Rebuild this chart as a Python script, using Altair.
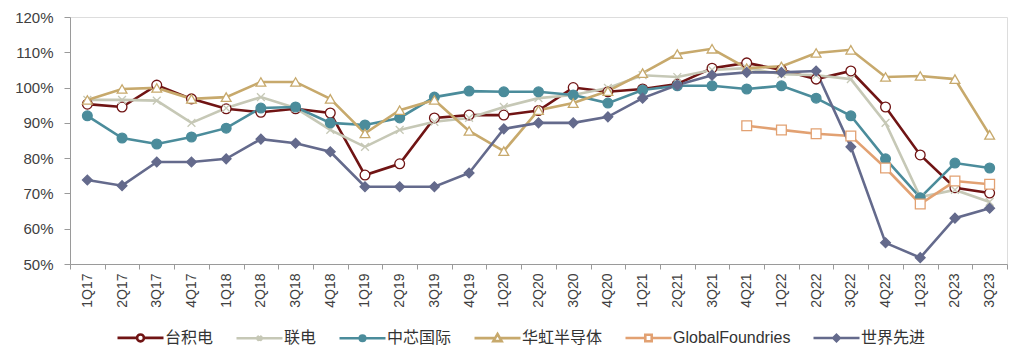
import altair as alt
import pandas as pd

quarters = ["1Q17","2Q17","3Q17","4Q17","1Q18","2Q18","3Q18","4Q18","1Q19","2Q19",
            "3Q19","4Q19","1Q20","2Q20","3Q20","4Q20","1Q21","2Q21","3Q21","4Q21",
            "1Q22","2Q22","3Q22","4Q22","1Q23","2Q23","3Q23"]

series_names = ["台积电", "联电", "中芯国际", "华虹半导体", "GlobalFoundries", "世界先进"]

tsmc = [95.3, 94.5, 100.7, 96.8, 94.0, 93.0, 94.0, 92.8, 75.2, 78.4, 91.4, 92.2, 92.2, 93.5,
        100.0, 98.8, 99.6, 101.0, 105.5, 107.0, 105.0, 102.4, 104.7, 94.5, 80.9, 71.6, 70.1]
umc = [96.5, 96.5, 96.3, 90.0, 94.2, 97.3, 94.2, 88.0, 83.2, 88.0, 90.3, 91.4, 94.5, 97.0,
       97.9, 99.9, 103.5, 103.0, 105.0, 105.5, 103.8, 103.5, 102.4, 90.0, 69.0, 71.0, 67.6]
smic = [92.0, 85.7, 84.0, 86.0, 88.5, 94.2, 94.5, 90.0, 89.4, 91.4, 97.3, 99.0, 98.8, 98.8,
        97.9, 95.6, 99.3, 100.5, 100.5, 99.6, 100.5, 97.0, 92.0, 79.8, 68.8, 78.6, 77.2]
huahong = [96.5, 99.6, 99.9, 96.8, 97.3, 101.6, 101.6, 96.8, 87.0, 93.6, 96.5, 87.7, 82.0, 93.6,
           95.6, 99.0, 104.1, 109.5, 111.0, 105.5, 106.0, 109.8, 110.7, 103.0, 103.3, 102.4, 86.6]
gf = [None] * 19 + [89.2, 88.0, 86.9, 86.3, 77.2, 67.0, 73.5, 72.6]
vis = [73.8, 72.2, 78.9, 78.9, 79.8, 85.4, 84.2, 81.8, 71.9, 71.9, 71.9, 75.8, 88.3, 90.0,
       90.0, 91.7, 97.0, 100.7, 103.5, 104.3, 104.3, 104.7, 83.2, 56.0, 51.8, 63.0, 65.8]

y_ticks = [50, 60, 70, 80, 90, 100, 110, 120]

colors = ["#701414", "#c6c8b6", "#4b8c9b", "#c7a96c", "#e2a172", "#646a8c"]
fills = ["#ffffff", "#c6c8b6", "#4b8c9b", "#ffffff", "#ffffff", "#646a8c"]
point_shapes = ["circle", "M-0.8,-0.8L0.8,0.8M-0.8,0.8L0.8,-0.8", "circle",
                "triangle-up", "square", "diamond"]
legend_shapes = [
    "M-1,0H-0.15M0.15,0H1M-0.15,0A0.15,0.15,0,1,0,0.15,0A0.15,0.15,0,1,0,-0.15,0Z",
    "M-1,0H1M-0.1,-0.1L0.1,0.1M-0.1,0.1L0.1,-0.1",
    "M-1,0H1M-0.12,0A0.12,0.12,0,1,0,0.12,0A0.12,0.12,0,1,0,-0.12,0ZM-0.05,0A0.05,0.05,0,1,0,0.05,0A0.05,0.05,0,1,0,-0.05,0Z",
    "M-1,0H-0.11M0.11,0H1M0,-0.18L0.18,0.13L-0.18,0.13Z",
    "M-1,0H-0.14M0.14,0H1M-0.14,-0.14H0.14V0.14H-0.14Z",
    "M-1,0H1M0,-0.14L0.14,0L0,0.14L-0.14,0ZM0,-0.06L0.06,0L0,0.06L-0.06,0Z",
]

rows = []
for name, vals in zip(series_names, [tsmc, umc, smic, huahong, gf, vis]):
    for q, v in zip(quarters, vals):
        if v is not None:
            rows.append({"quarter": q, "series": name, "series2": name, "value": v})
df = pd.DataFrame(rows)

FONT = "Liberation Sans, Noto Sans CJK SC"

x_enc = alt.X("quarter:N", sort=quarters, bandPosition=0.5,
              scale=alt.Scale(type="band", paddingInner=0, paddingOuter=0, domain=quarters),
              axis=alt.Axis(title=None, labelAngle=-90, labelFontSize=14, labelPadding=4,
                            tickBand="extent", tickSize=5, domainColor="#9a9a9a",
                            tickColor="#9a9a9a", labelColor="#404040", labelFont=FONT,
                            grid=False))
y_enc = alt.Y("value:Q",
              scale=alt.Scale(domain=[50, 120], nice=False, zero=False),
              axis=alt.Axis(title=None, values=y_ticks, labelExpr="datum.value + '%'",
                            labelFontSize=15, labelPadding=11, tickSize=6,
                            domainColor="#9a9a9a", tickColor="#9a9a9a",
                            labelColor="#404040", labelFont=FONT, grid=False))

stroke_scale = alt.Scale(domain=series_names, range=colors)

lines = alt.Chart(df).mark_line(strokeWidth=2.6).encode(
    x=x_enc, y=y_enc,
    stroke=alt.Stroke("series:N", scale=stroke_scale, legend=None),
    detail="series:N",
)

points = alt.Chart(df).mark_point(filled=True, size=95, strokeWidth=1.3, opacity=1).encode(
    x=x_enc, y=y_enc,
    stroke=alt.Stroke("series:N", scale=stroke_scale, legend=None),
    fill=alt.Fill("series:N", scale=alt.Scale(domain=series_names, range=fills), legend=None),
    shape=alt.Shape("series2:N", scale=alt.Scale(domain=series_names, range=point_shapes),
                    legend=None),
)

leg = alt.Legend(title=None, orient="none", legendX=46, legendY=296, direction="horizontal",
                 symbolSize=2116, symbolStrokeWidth=2.6, symbolOpacity=1,
                 labelFontSize=16, labelFont=FONT, labelColor="#333333", labelOffset=0,
                 columnPadding=17, padding=0, symbolFillColor="transparent")

legend_layer = alt.Chart(df).mark_point(opacity=0, size=2116, strokeWidth=2.6).encode(
    x=x_enc, y=y_enc,
    color=alt.Color("series:N", scale=alt.Scale(domain=series_names, range=colors), legend=leg),
    shape=alt.Shape("series:N", scale=alt.Scale(domain=series_names, range=legend_shapes),
                    legend=leg),
)

chart = alt.layer(lines, points, legend_layer).resolve_scale(
    shape="independent", color="independent"
).properties(
    width=937, height=247,
    autosize="none",
    padding={"left": 62, "top": 9, "right": 10, "bottom": 90},
).configure_view(stroke=None).configure(font=FONT)

chart.save("out.html", embed_options={"renderer": "svg", "actions": False})
